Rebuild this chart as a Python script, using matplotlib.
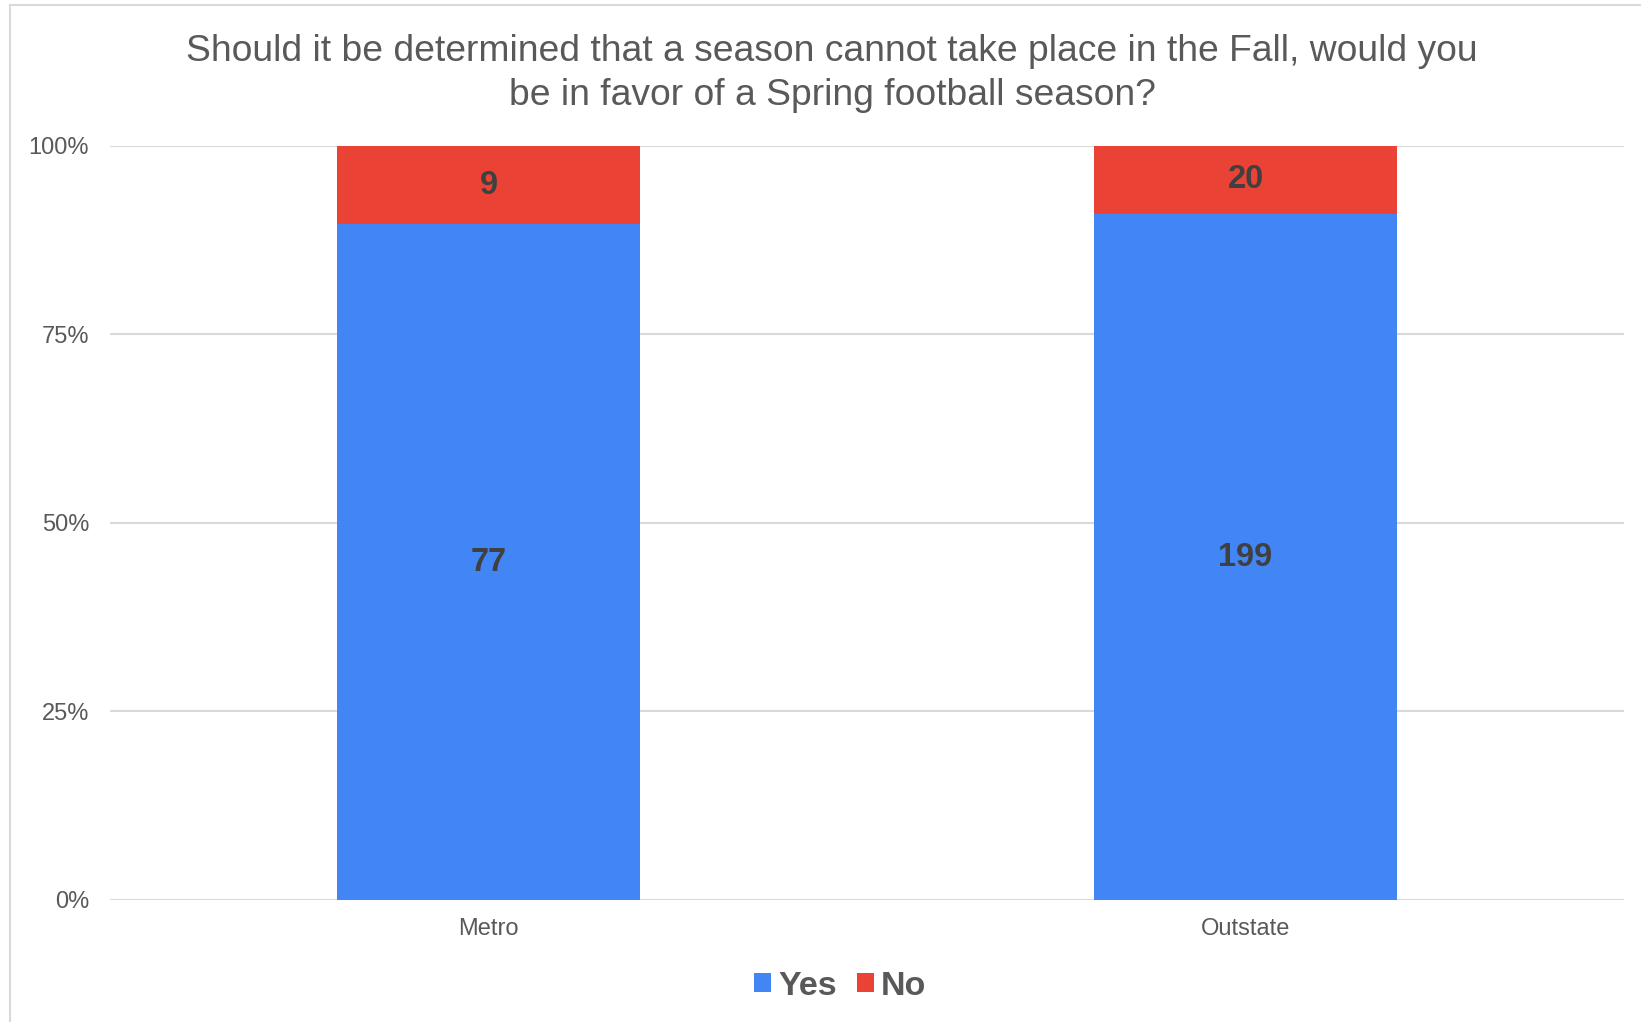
import numpy as np
import matplotlib.pyplot as plt
from matplotlib.patches import Patch
from matplotlib.lines import Line2D

# %% Data
categories = ["Metro", "Outstate"]
yes_counts = [77, 199]
no_counts = [9, 20]
y_ticks = [0, 25, 50, 75, 100]
y_tick_labels = ["0%", "25%", "50%", "75%", "100%"]
title = ("Should it be determined that a season cannot take place in the Fall, would you\n"
         "be in favor of a Spring football season?")

BLUE = "#4285F4"
RED = "#EA4335"
GRID = "#d9d9d9"
TEXT = "#595959"

plt.rcParams["font.family"] = ["Liberation Sans", "DejaVu Sans"]

# %% Percentages
yes = np.array(yes_counts, dtype=float)
no = np.array(no_counts, dtype=float)
total = yes + no
yes_pct = yes / total * 100
no_pct = no / total * 100
x = np.arange(len(categories))

# %% Plot
fig = plt.figure(figsize=(16.41, 10.22), dpi=100)
ax = fig.add_axes([0.067, 0.1194, 0.9227, 0.7382])

ax.bar(x, yes_pct, width=0.4, color=BLUE, zorder=3)
ax.bar(x, no_pct, width=0.4, bottom=yes_pct, color=RED, zorder=3)

for i in range(len(x)):
    ax.text(x[i], yes_pct[i] / 2, str(yes_counts[i]), ha="center", va="center",
            fontsize=23.5, fontweight="bold", color="#404040", zorder=4)
    ax.text(x[i], yes_pct[i] + no_pct[i] / 2, str(no_counts[i]), ha="center", va="center",
            fontsize=23.5, fontweight="bold", color="#404040", zorder=4)

ax.set_xlim(-0.5, 1.5)
ax.set_ylim(0, 100)
ax.set_yticks(y_ticks)
ax.set_yticklabels(y_tick_labels)
ax.set_xticks(x)
ax.set_xticklabels(categories)
ax.tick_params(axis="both", length=0, labelsize=17, labelcolor=TEXT)
ax.tick_params(axis="y", pad=15)
ax.tick_params(axis="x", pad=13)
ax.grid(axis="y", color=GRID, linewidth=1.5, zorder=0)
for s in ax.spines.values():
    s.set_visible(False)

fig.text(0.507, 0.928, title, ha="center", va="center", fontsize=26.8,
         color=TEXT, linespacing=1.32)

handles = [Patch(facecolor=BLUE), Patch(facecolor=RED)]
fig.legend(handles, ["Yes", "No"], loc="center", bbox_to_anchor=(0.512, 0.035),
           ncol=2, frameon=False, handlelength=0.5, handleheight=0.5,
           handletextpad=0.2, columnspacing=0.6,
           prop={"size": 24.5, "weight": "bold"}, labelcolor=TEXT)

# light frame on top and left edges
fig.add_artist(Line2D([10 / 1641, 1], [1 - 5 / 1022, 1 - 5 / 1022],
                      transform=fig.transFigure, color=GRID, linewidth=1.5))
fig.add_artist(Line2D([10 / 1641, 10 / 1641], [0, 1 - 5 / 1022],
                      transform=fig.transFigure, color=GRID, linewidth=1.5))

fig.savefig("out.png", dpi=100)
